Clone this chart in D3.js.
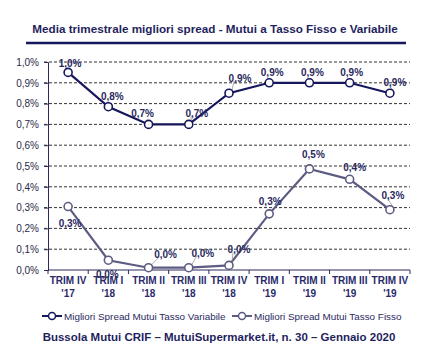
<!DOCTYPE html>
<html><head><meta charset="utf-8">
<script src="https://cdn.jsdelivr.net/npm/d3@7/dist/d3.min.js"></script>
<style>body{margin:0;background:#fff}svg{display:block}</style>
</head><body><svg id="c" width="436" height="361"></svg>
<script>
const categories = ["TRIM IV|'17","TRIM I|'18","TRIM II|'18","TRIM III|'18","TRIM IV|'18","TRIM I|'19","TRIM II|'19","TRIM III|'19","TRIM IV|'19"];
const variabile = [0.95,0.785,0.70,0.70,0.85,0.90,0.90,0.90,0.85];
const fisso = [0.305,0.047,0.011,0.011,0.022,0.27,0.486,0.436,0.29];
const yTicks = [0,0.1,0.2,0.3,0.4,0.5,0.6,0.7,0.8,0.9,1.0];
const seriesNames = ["Migliori Spread Mutui Tasso Variabile","Migliori Spread Mutui Tasso Fisso"];
const title = "Media trimestrale migliori spread - Mutui a Tasso Fisso e Variabile";
const footer = "Bussola Mutui CRIF \u2013 MutuiSupermarket.it,  n. 30 \u2013 Gennaio 2020";
// label offsets (dx,dy) relative to points
const varOff = [[2,-9],[4,-11],[-6,-11],[8,-11],[11,-15],[3,-11],[3,-11],[2,-11],[5,-11]];
const fixOff = [[2,16],[-1,14],[17,-14],[14,-15],[10,-16],[1,-13],[4,-15],[5,-12],[3,-15]];
const varLead = [false,false,false,true,true,false,false,false,true];
const fixLead = [false,false,true,true,true,false,false,false,true];

const svg = d3.select("#c");
const navy = "#16165c", gray = "#5c5c82", txt = "#1f1f5e";
const x = d3.scaleBand().domain(d3.range(categories.length)).range([48,410]);
const y = d3.scaleLinear().domain([0,1.0]).range([270,62]);
const fmt = v => (Math.round(v*10+1e-9)/10).toFixed(1).replace(".", ",") + "%";

svg.append("text").attr("x",215).attr("y",33).attr("text-anchor","middle")
  .attr("font-family","Liberation Sans, Arial").attr("font-weight","bold").attr("font-size",11.7)
  .attr("fill",txt).text(title);
svg.append("line").attr("x1",26).attr("x2",406).attr("y1",43).attr("y2",43).attr("stroke",navy).attr("stroke-width",2.5);

// grid
svg.append("g").selectAll("line").data(yTicks.slice(1)).join("line")
  .attr("x1",44).attr("x2",410).attr("y1",d=>y(d)).attr("y2",d=>y(d))
  .attr("stroke","#333").attr("stroke-width",1).attr("stroke-dasharray","3,2");
// y axis
const ya = svg.append("g").attr("transform","translate(48,0)")
  .call(d3.axisLeft(y).tickValues(yTicks).tickSize(4).tickPadding(5).tickFormat(fmt));
ya.select(".domain").attr("stroke","#2a2a5a");
ya.selectAll(".tick line").attr("stroke","#2a2a5a");
ya.selectAll("text").attr("font-family","Liberation Sans, Arial").attr("font-size",10).attr("fill","#2a2a4a");
// x axis
const xa = svg.append("g").attr("transform","translate(0,270)");
xa.append("line").attr("x1",48).attr("x2",410).attr("stroke","#2a2a5a");
xa.selectAll(".tk").data(d3.range(categories.length+1)).join("line")
  .attr("x1",i=>48+i*x.step()).attr("x2",i=>48+i*x.step()).attr("y1",0).attr("y2",4).attr("stroke","#2a2a5a");
const xl = xa.selectAll(".xl").data(categories).join("text")
  .attr("text-anchor","middle").attr("font-family","Liberation Sans Narrow, Arial Narrow, Liberation Sans")
  .attr("font-weight","bold").attr("font-size",10).attr("fill","#2a2a6a");
xl.append("tspan").attr("x",(d,i)=>x(i)+x.bandwidth()/2).attr("y",14).text(d=>d.split("|")[0]);
xl.append("tspan").attr("x",(d,i)=>x(i)+x.bandwidth()/2).attr("y",27).text(d=>d.split("|")[1]);

function series(vals, color, offs, leads){
  const cx = i => x(i)+x.bandwidth()/2;
  const pts = vals.map((v,i)=>({v,i}));
  const line = d3.line().x(p=>cx(p.i)).y(p=>y(p.v));
  svg.append("path").datum(pts).attr("d",line).attr("fill","none").attr("stroke",color).attr("stroke-width",2.2);
  svg.append("g").selectAll("line").data(pts.filter(p=>leads[p.i])).join("line")
    .attr("x1",p=>cx(p.i)+3).attr("y1",p=>y(p.v)-3)
    .attr("x2",p=>cx(p.i)+offs[p.i][0]-6).attr("y2",p=>y(p.v)+offs[p.i][1]+3)
    .attr("stroke","#888").attr("stroke-width",0.7);
  svg.append("g").selectAll("circle").data(pts).join("circle")
    .attr("cx",p=>cx(p.i)).attr("cy",p=>y(p.v)).attr("r",4)
    .attr("fill","#fff").attr("stroke",color).attr("stroke-width",1.6);
  svg.append("g").selectAll("text").data(pts).join("text")
    .attr("x",p=>cx(p.i)+offs[p.i][0]).attr("y",p=>y(p.v)+offs[p.i][1]+4)
    .attr("text-anchor","middle").attr("font-family","Liberation Sans, Arial").attr("font-weight","bold")
    .attr("font-size",10).attr("fill","#2a2a5e").text(p=>fmt(p.v));
}
series(variabile, navy, varOff, varLead);
series(fisso, gray, fixOff, fixLead);

// legend
const leg = [[42,navy],[232,gray]];
leg.forEach(([lx,c],k)=>{
  svg.append("line").attr("x1",lx).attr("x2",lx+20).attr("y1",316).attr("y2",316).attr("stroke",c).attr("stroke-width",2);
  svg.append("circle").attr("cx",lx+10).attr("cy",316).attr("r",3.5).attr("fill","#fff").attr("stroke",c).attr("stroke-width",1.5);
  svg.append("text").attr("x",lx+22).attr("y",319.5).attr("font-family","Liberation Sans Narrow, Arial Narrow, Liberation Sans")
    .attr("font-size",9.9).attr("fill","#2a2a5e").text(seriesNames[k]);
});
svg.append("text").attr("x",219).attr("y",341).attr("text-anchor","middle")
  .attr("font-family","Liberation Sans, Arial").attr("font-weight","bold").attr("font-size",11.5)
  .attr("fill",txt).text(footer);
</script></body></html>
